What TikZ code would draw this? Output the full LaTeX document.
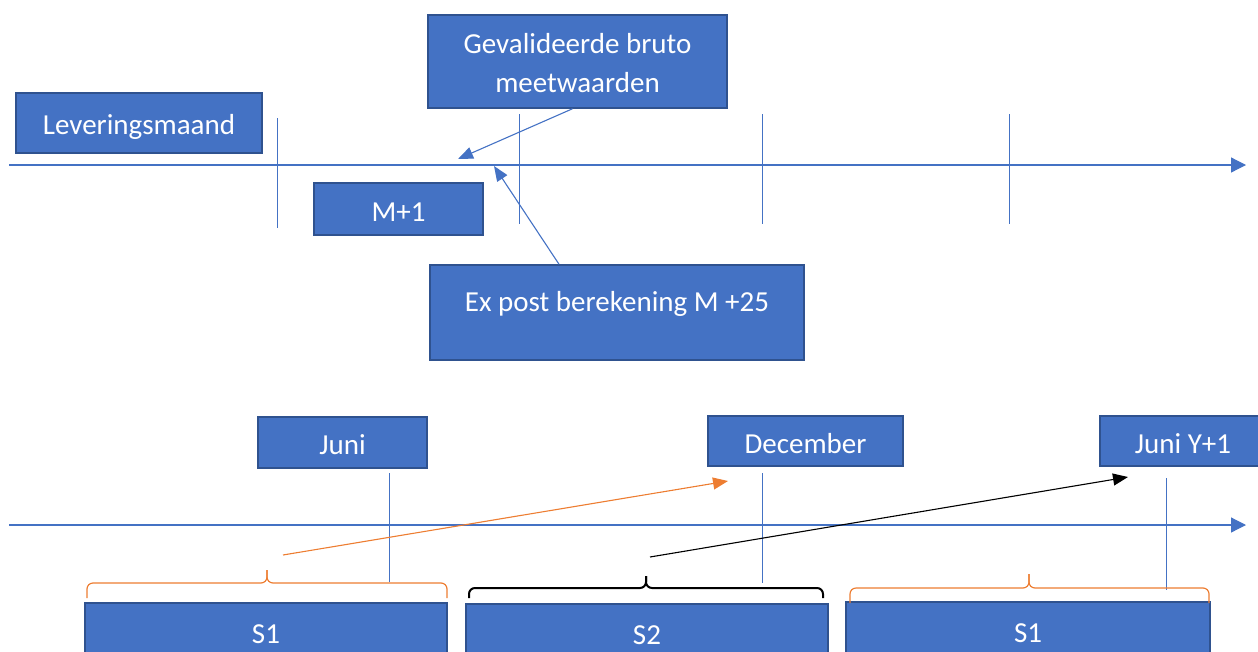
\documentclass[tikz,border=0pt]{standalone}
\usepackage{fontspec}
\setmainfont{Carlito}
\usetikzlibrary{arrows.meta}
\definecolor{blokblauw}{HTML}{4472C4}
\definecolor{blokrand}{HTML}{2F528F}
\definecolor{lijnoranje}{HTML}{ED7D31}

\begin{document}
\begin{tikzpicture}[x=1pt, y=-1pt,
  blok/.style={draw=blokrand, fill=blokblauw, line width=1.5pt, text=white,
    inner sep=0pt, align=center, font=\fontsize{29}{39}\selectfont,
    text height=25pt, text depth=1pt},
  as/.style={blokblauw, line width=1.2pt, -{Triangle[length=15pt,width=15pt]}},
  streep/.style={blokblauw, line width=1pt},
  wijzer/.style={line width=1.1pt, -{Triangle[length=15pt,width=12pt]}},
  oranjeaccolade/.style={lijnoranje, line width=1.2pt, rounded corners=6pt},
  zwarteaccolade/.style={black, line width=2pt, rounded corners=6pt}]
  \useasboundingbox (0,0) rectangle (1258,651);

  \node[blok, minimum width=246, minimum height=60, text height=24pt] (lev) at (139,123) {Leveringsmaand};
  \node[blok, minimum width=169, minimum height=52] (m1) at (398.5,209) {M+1};
  \node[blok, minimum width=299, minimum height=93, text height=66pt, text depth=5pt] (gev) at (577.5,61.5) {Gevalideerde bruto\\meetwaarden};
  \node[blok, minimum width=374, minimum height=95, text height=17pt, text depth=19pt] (expost) at (617,312.5) {Ex post berekening M +25};

  \node[blok, minimum width=169, minimum height=51] (juni) at (342.5,442.5) {Juni};
  \node[blok, minimum width=195, minimum height=50] (dec) at (805.5,441) {December};
  \node[blok, minimum width=166, minimum height=50] (juniy) at (1183,441) {Juni Y+1};
  \node[blok, minimum width=362, minimum height=56] (sa) at (266,631) {S1};
  \node[blok, minimum width=362, minimum height=56] (sb) at (647,632) {S2};
  \node[blok, minimum width=364, minimum height=56] (sc) at (1028,630) {S1};

  \draw[as] (9,165) -- (1246,165);
  \draw[as] (9,525) -- (1246,525);
  \foreach \x/\a/\b in {277/118/228, 519/114/224, 762/114/224, 1009/114/224, 389/473/582, 762/473/583, 1166/478/590}
    \draw[streep] (\x,\a) -- (\x,\b);

  \coordinate (gevpunt) at (458,159);
  \coordinate (expunt) at (494,166);
  \draw[wijzer, blokblauw] ([xshift=-5pt]gev.south) -- (gevpunt);
  \draw[wijzer, blokblauw] ([xshift=-58pt]expost.north) -- (expunt);

  \coordinate (sastart) at (283,555);
  \coordinate (decpunt) at (728,481);
  \coordinate (sbstart) at (650,557);
  \coordinate (juniypunt) at (1128,477);
  \draw[wijzer, lijnoranje] (sastart) -- (decpunt);
  \draw[wijzer, black] (sbstart) -- (juniypunt);

  \draw[oranjeaccolade] (87,598) -- (87,583) -- (267,583) -- (267,570);
  \draw[oranjeaccolade] (447,598) -- (447,583) -- (267,583) -- (267,570);
  \draw[zwarteaccolade] (469,598) -- (469,588) -- (646,588) -- (646,576);
  \draw[zwarteaccolade] (823,598) -- (823,588) -- (646,588) -- (646,576);
  \draw[oranjeaccolade] (850,603) -- (850,588) -- (1029,588) -- (1029,574);
  \draw[oranjeaccolade] (1209,603) -- (1209,588) -- (1029,588) -- (1029,574);
\end{tikzpicture}
\end{document}
